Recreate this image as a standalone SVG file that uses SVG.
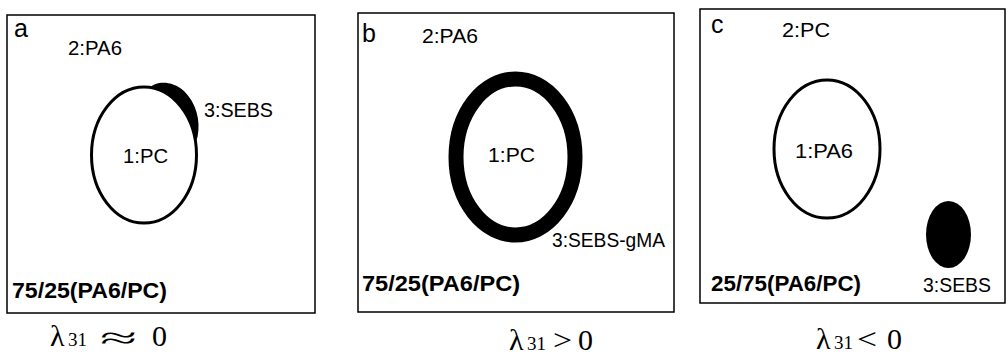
<svg xmlns="http://www.w3.org/2000/svg" width="1008" height="358" viewBox="0 0 1008 358">
<style>
.box{fill:#fff;stroke:#000;stroke-width:1.5}
.lbl{font-family:"Liberation Sans",Arial,sans-serif;font-size:20px;fill:#000}
.tag{font-family:"Liberation Sans",Arial,sans-serif;font-size:25px;fill:#000}
.ratio{font-family:"Liberation Sans",Arial,sans-serif;font-size:22px;font-weight:bold;fill:#000}
.lam{font-family:"Liberation Serif","Times New Roman",serif;font-size:30px;fill:#000}
.sub{font-size:19px}
</style>
<rect width="1008" height="358" fill="#fff"/>
<g id="panel-a">
  <rect class="box" x="7" y="15" width="308" height="298"/>
  <text class="tag" x="14" y="37">a</text>
  <text class="lbl" x="68" y="55" textLength="54" lengthAdjust="spacingAndGlyphs">2:PA6</text>
  <ellipse cx="144" cy="155" rx="52.5" ry="68" fill="none" stroke="#000" stroke-width="3"/>
  <path d="M150 87.4 C156 81 172 80 184 91 C196 103 201 120 197.5 137 L195.5 142 A52.5 68 0 0 0 150 87.4 Z" fill="#000"/>
  <text class="lbl" x="204" y="117" textLength="69" lengthAdjust="spacingAndGlyphs">3:SEBS</text>
  <text class="lbl" x="123" y="163" textLength="45" lengthAdjust="spacingAndGlyphs">1:PC</text>
  <text class="ratio" x="12" y="298" textLength="155" lengthAdjust="spacingAndGlyphs">75/25(PA6/PC)</text>
  <text class="lam" y="346"><tspan x="50">λ</tspan><tspan class="sub" x="68">31</tspan></text>
  <text class="lam" x="100" y="348" font-size="40" textLength="37" lengthAdjust="spacingAndGlyphs">≈</text>
  <text class="lam" x="152" y="346">0</text>
</g>
<g id="panel-b">
  <rect class="box" x="358" y="13" width="316" height="299"/>
  <text class="tag" x="362" y="42">b</text>
  <text class="lbl" x="422" y="43" textLength="56" lengthAdjust="spacingAndGlyphs">2:PA6</text>
  <ellipse cx="515.5" cy="157" rx="59.5" ry="78" fill="none" stroke="#000" stroke-width="15"/>
  <text class="lbl" x="488" y="162" textLength="47" lengthAdjust="spacingAndGlyphs">1:PC</text>
  <text class="lbl" x="552" y="247" textLength="113" lengthAdjust="spacingAndGlyphs">3:SEBS-gMA</text>
  <text class="ratio" x="362" y="291" textLength="158" lengthAdjust="spacingAndGlyphs">75/25(PA6/PC)</text>
  <text class="lam" y="350"><tspan x="509">λ</tspan><tspan class="sub" x="527">31</tspan></text>
  <text class="lam" x="553" y="350" font-size="36" textLength="19" lengthAdjust="spacingAndGlyphs">&gt;</text>
  <text class="lam" x="578" y="350">0</text>
</g>
<g id="panel-c">
  <rect class="box" x="700" y="9" width="305" height="294"/>
  <text class="tag" x="711" y="33">c</text>
  <text class="lbl" x="782" y="37" textLength="48" lengthAdjust="spacingAndGlyphs">2:PC</text>
  <ellipse cx="827" cy="149" rx="53" ry="69" fill="none" stroke="#000" stroke-width="3"/>
  <text class="lbl" x="795" y="158" textLength="58" lengthAdjust="spacingAndGlyphs">1:PA6</text>
  <ellipse cx="948.5" cy="234.5" rx="22.5" ry="33.5" fill="#000"/>
  <text class="lbl" x="923" y="292" textLength="68" lengthAdjust="spacingAndGlyphs">3:SEBS</text>
  <text class="ratio" x="711" y="291" textLength="150" lengthAdjust="spacingAndGlyphs">25/75(PA6/PC)</text>
  <text class="lam" y="349"><tspan x="816">λ</tspan><tspan class="sub" x="834">31</tspan></text>
  <text class="lam" x="857" y="349" font-size="36" textLength="20" lengthAdjust="spacingAndGlyphs">&lt;</text>
  <text class="lam" x="887" y="349">0</text>
</g>
<g id="connectors"></g>
</svg>
